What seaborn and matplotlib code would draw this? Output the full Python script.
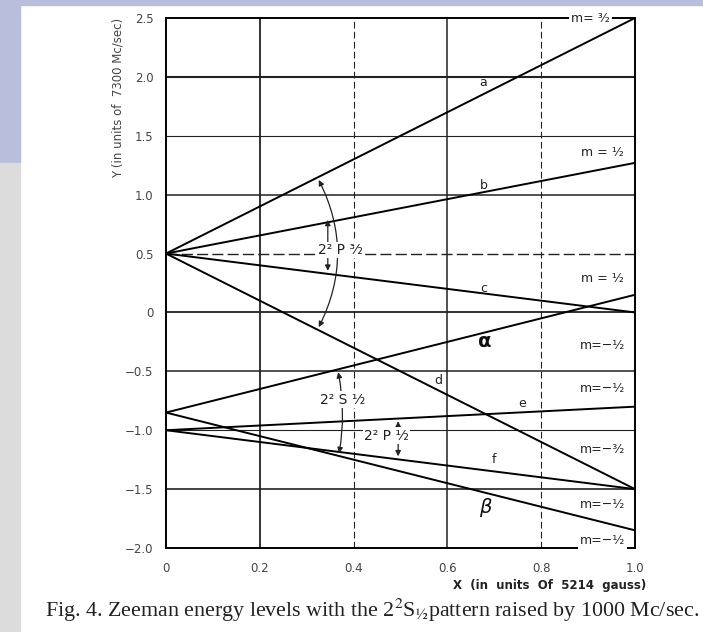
import matplotlib
matplotlib.use("Agg")
import matplotlib.pyplot as plt
from matplotlib.patches import Rectangle
import seaborn as sns
import pandas as pd

# ---- data -------------------------------------------------------------
x_ends = [0.0, 1.0]
line_a = [0.5, 2.5]
line_b = [0.5, 1.27]
line_c = [0.5, 0.0]
line_d = [0.5, -1.5]
line_alpha = [-0.85, 0.15]
line_beta = [-0.85, -1.85]
line_e = [-1.0, -0.8]
line_f = [-1.0, -1.5]

series_names = ["a", "b", "c", "d", "α", "β", "e", "f"]
series_vals = [line_a, line_b, line_c, line_d, line_alpha, line_beta, line_e, line_f]

x_ticks = [0, 0.2, 0.4, 0.6, 0.8, 1.0]
x_ticklabels = ["0", "0.2", "0.4", "0.6", "0.8", "1.0"]
y_ticks = [2.5, 2.0, 1.5, 1.0, 0.5, 0, -0.5, -1.0, -1.5, -2.0]
y_ticklabels = ["2.5", "2.0", "1.5", "1.0", "0.5", "0", "\u22120.5", "\u22121.0", "\u22121.5", "\u22122.0"]

m_labels = ["m= ³⁄₂", "m = ¹⁄₂", "m = ¹⁄₂", "m=\u2212¹⁄₂", "m=\u2212¹⁄₂", "m=\u2212³⁄₂", "m=\u2212¹⁄₂", "m=\u2212¹⁄₂"]
m_label_x = [0.905, 0.93, 0.93, 0.93, 0.93, 0.93, 0.93, 0.93]
m_label_y = [2.5, 1.36, 0.29, -0.28, -0.65, -1.16, -1.63, -1.94]

# ---- figure -----------------------------------------------------------
sns.set_theme(style="white")
plt.rcParams["font.family"] = ["DejaVu Sans"]
plt.rcParams["mathtext.fontset"] = "stix"

fig = plt.figure(figsize=(7.03, 6.32), dpi=100, facecolor="white")
lav = "#b9bedc"
gry = "#dcdcdc"
fig.patches.append(Rectangle((0, 1 - 5 / 632), 1, 5 / 632, transform=fig.transFigure, color=lav, zorder=-10))
fig.patches.append(Rectangle((0, 1 - 163 / 632), 20 / 703, 163 / 632, transform=fig.transFigure, color=lav, zorder=-10))
fig.patches.append(Rectangle((0, 0), 20 / 703, 1 - 163 / 632, transform=fig.transFigure, color=gry, zorder=-10))

ax = fig.add_axes([166 / 703, 1 - 548 / 632, 469 / 703, 530 / 632])
ax.set_facecolor("white")

rows = []
for name, vals in zip(series_names, series_vals):
    for xv, yv in zip(x_ends, vals):
        rows.append({"x": xv, "y": yv, "level": name})
df = pd.DataFrame(rows)
sns.lineplot(data=df, x="x", y="y", units="level", estimator=None,
             color="black", linewidth=1.4, ax=ax, legend=False, zorder=3)

# grid lines (scanned style)
for xv, ls, lw in [(0.2, "-", 1.3), (0.4, (0, (6, 3)), 0.8), (0.6, "-", 1.1), (0.8, (0, (6, 3)), 0.8)]:
    ax.axvline(xv, color="#222222", ls=ls, lw=lw, zorder=1)
for yv, ls, lw in [(2.0, "-", 1.5), (1.5, "-", 0.8), (1.0, "-", 1.1), (0.5, (0, (8, 3)), 1.0),
                   (0.0, "-", 1.3), (-0.5, "-", 1.1), (-1.0, "-", 0.8), (-1.5, "-", 1.2)]:
    ax.axhline(yv, color="#222222", ls=ls, lw=lw, zorder=1)

ax.set_xlim(0, 1.0)
ax.set_ylim(-2.0, 2.5)
for sp in ax.spines.values():
    sp.set_color("black")
    sp.set_linewidth(1.4)
ax.set_xticks(x_ticks)
ax.set_xticklabels(x_ticklabels)
ax.set_yticks(y_ticks)
ax.set_yticklabels(y_ticklabels)
ax.tick_params(axis="both", which="both", length=4, width=1, color="#333333",
               labelsize=8.5, labelcolor="#444444", direction="out")
ax.tick_params(axis="y", pad=5)
ax.tick_params(axis="x", pad=6)
ax.set_xlabel("")
ax.set_ylabel("")

# curve letters
letter_pos = {"a": (0.677, 1.95), "b": (0.677, 1.08), "c": (0.677, 0.2),
              "d": (0.58, -0.58), "e": (0.76, -0.77), "f": (0.70, -1.25)}
for k, (xv, yv) in letter_pos.items():
    ax.text(xv, yv, k, fontsize=9, ha="center", va="center", color="#222222", zorder=4)
ax.text(0.68, -0.25, "α", fontsize=14, fontweight="bold", ha="center", va="center", color="#111111", zorder=4)
ax.text(0.68, -1.66, "β", fontsize=14, fontstyle="italic", ha="center", va="center", color="#111111", zorder=4)

# m labels on right
for lab, xv, yv in zip(m_labels, m_label_x, m_label_y):
    ax.text(xv, yv, lab, fontsize=9, ha="center", va="center", color="#222222", zorder=5,
            bbox=dict(boxstyle="square,pad=0.15", fc="white", ec="none"))

# term annotations with arrows
arrow_kw = dict(arrowstyle="<|-|>", color="#222222", lw=0.9, mutation_scale=8)
ax.annotate("", xy=(0.323, -0.146), xytext=(0.323, 1.146),
            arrowprops=dict(connectionstyle="arc3,rad=-0.26", **arrow_kw), zorder=4)
ax.annotate("", xy=(0.345, 0.33), xytext=(0.345, 0.81),
            arrowprops=dict(connectionstyle="arc3,rad=0", **arrow_kw), zorder=4)
ax.text(0.373, 0.53, "2² P ³⁄₂", fontsize=10, ha="center", va="center", color="#222222", zorder=5,
        bbox=dict(boxstyle="square,pad=0.1", fc="white", ec="none"))

ax.annotate("", xy=(0.368, -1.218), xytext=(0.366, -0.484),
            arrowprops=dict(connectionstyle="arc3,rad=-0.1", **arrow_kw), zorder=4)
ax.text(0.377, -0.74, "2² S ¹⁄₂", fontsize=10, ha="center", va="center", color="#222222", zorder=5,
        bbox=dict(boxstyle="square,pad=0.1", fc="white", ec="none"))

ax.annotate("", xy=(0.495, -1.245), xytext=(0.495, -0.90),
            arrowprops=dict(connectionstyle="arc3,rad=0", **arrow_kw), zorder=4)
ax.text(0.47, -1.045, "2² P ¹⁄₂", fontsize=10, ha="center", va="center", color="#222222", zorder=5,
        bbox=dict(boxstyle="square,pad=0.1", fc="white", ec="none"))

# axis titles
fig.text(118 / 703, 1 - 98 / 632, "Y (in units of  7300 Mc/sec)", rotation=90, ha="center", va="center",
         fontsize=8.5, color="#444444")
fig.text(550 / 703, 1 - 585 / 632, "X  (in  units  Of  5214  gauss)", ha="center", va="center",
         fontsize=8.5, fontweight="bold", color="#222222")

# caption
fig.text(372 / 703, 1 - 610 / 632,
         r"Fig. 4. Zeeman energy levels with the 2$^{2}$S$_{½}$pattern raised by 1000 Mc/sec.",
         ha="center", va="center", fontsize=15.8, family="Liberation Serif", color="#222222")

fig.savefig("out.png", dpi=100, facecolor="white")
